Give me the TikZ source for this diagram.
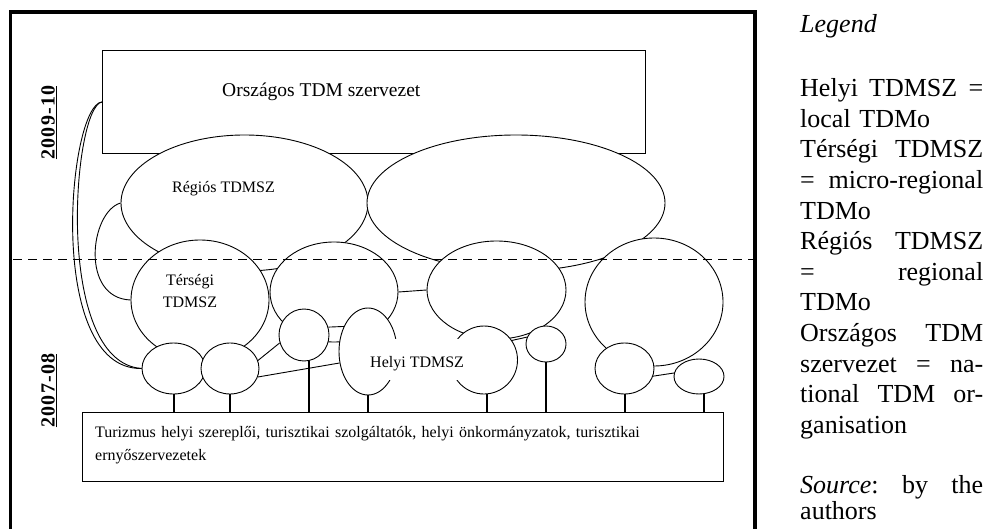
\documentclass[tikz,border=0pt]{standalone}
\usepackage{fontspec}
\setmainfont{Liberation Serif}
\usetikzlibrary{shapes.geometric}
\newcommand\jl[1]{\leavevmode\hbox to 183pt{#1}}
\begin{document}
\begin{tikzpicture}[x=1pt,y=-1pt]
\tikzset{
  orb/.style={ellipse, draw, fill=white, line width=0.9pt, inner sep=0pt},
  boxy/.style={draw, fill=white, inner sep=0pt, anchor=north west},
  stem/.style={line width=2pt},
  link/.style={line width=0.9pt},
  frameline/.style={line width=3.5pt, line join=miter},
  lbl/.style={inner sep=0pt, anchor=base west},
  small/.style={font=\fontsize{16}{22}\selectfont},
  yearlbl/.style={rotate=90, inner sep=0pt, font=\fontsize{20}{24}\selectfont\bfseries\addfontfeature{LetterSpace=6}},
}
\useasboundingbox (0,0) rectangle (984,529);

% outer frame (open at the bottom)
\coordinate (f1) at (10.5,529);
\coordinate (f2) at (10.5,12);
\coordinate (f3) at (755,12);
\coordinate (f4) at (755,529);
\draw[frameline] (f1) -- (f2) -- (f3) -- (f4);

% national organisation
\node[boxy, line width=0.9pt, minimum width=543pt, minimum height=103pt] (NAT) at (102,50) {};

% regional
\node[orb, minimum width=247pt, minimum height=136pt] (RG1) at (244.5,203) {};
\node[orb, minimum width=298pt, minimum height=136pt] (RG2) at (516,203) {};

% micro-regional
\node[orb, minimum width=138pt, minimum height=120pt] (T1) at (200,300) {};
\node[orb, minimum width=128pt, minimum height=100pt] (T2) at (334,292) {};
\node[orb, minimum width=139pt, minimum height=98pt] (T3) at (496.5,290) {};
\node[orb, minimum width=138pt, minimum height=128pt] (T4) at (654,302) {};

% local
\node[orb, minimum width=63pt, minimum height=51pt] (A) at (173.5,368.5) {};
\node[orb, minimum width=58pt, minimum height=51pt] (B) at (230,368.5) {};
\node[orb, minimum width=50pt, minimum height=52pt] (C) at (304,335) {};
\node[orb, minimum width=58pt, minimum height=87pt] (D) at (368,351.5) {};
\node[orb, minimum width=67pt, minimum height=68pt] (E) at (484,360) {};
\node[orb, minimum width=40pt, minimum height=36pt] (F) at (546,344) {};
\node[orb, minimum width=59pt, minimum height=51pt] (J) at (624.5,368.5) {};
\node[orb, minimum width=50pt, minimum height=35pt] (K) at (699,376.5) {};

% actors box
\node[boxy, line width=1.2pt, minimum width=641pt, minimum height=69pt] (actors) at (82,412) {};

% stems
\draw[stem] (A.south) -- (A.south |- actors.north);
\draw[stem] (B.south) -- (B.south |- actors.north);
\draw[stem] (C.-79) -- (C.-79 |- actors.north);
\draw[stem] (D.south) -- (D.south |- actors.north);
\draw[stem] (E.-85) -- (E.-85 |- actors.north);
\draw[stem] (F.south) -- (F.south |- actors.north);
\draw[stem] (J.south) -- (J.south |- actors.north);
\draw[stem] (K.-74) -- (K.-74 |- actors.north);

% connectors
\draw[link] (NAT.west) .. controls (68,105) and (45,370) .. (A.west);
\draw[link] (NAT.west) .. controls (73,106) and (53,362) .. (A.west);
\draw[link] (RG1.west) .. controls (90,212) and (80,298) .. (T1.west);
\draw[link] (T2.east) -- (T3.west);
\draw[link] (B.16) -- (C.198);
\draw[link] (B.-17) -- (D.202);
\draw[link] (C.18) -- (D.134);
\draw[link] (E.35) -- (F.160);
\draw[link] (J.-15) -- (K.172);

% texts
\node[lbl, font=\fontsize{19.5}{23}\selectfont] (tnat) at (222,97) {Országos TDM szervezet};
\node[lbl, small] (trg) at (172,193) {Régiós TDMSZ};
\node[inner sep=0pt, anchor=base, small] (tter) at (190,285)
  {\begin{tabular}[t]{@{}c@{}}Térségi\\TDMSZ\end{tabular}};
\node[fill=white, inner xsep=7pt, inner ysep=0pt, text height=28pt, text depth=13pt,
  anchor=base west, small] (thely) at (363,367) {Helyi TDMSZ};
\node[lbl, text width=620pt, align=left, font=\fontsize{16}{23}\selectfont] (tact) at (95,437)
  {Turizmus helyi szereplői, turisztikai szolgáltatók, helyi önkormányzatok, turisztikai\\ernyőszervezetek};

% dashed period divider
\coordinate (dL) at (13,259.5);
\coordinate (dR) at (753,259.5);
\draw[dash pattern=on 9pt off 6pt, line width=1.8pt] (dL) -- (dR);

% period labels
\node[yearlbl] (y1) at (49,122.5) {\underline{2009-10}};
\node[yearlbl] (y2) at (49,390.5) {\underline{2007-08}};

% legend
\node[lbl, font=\fontsize{26}{30.6}\selectfont\itshape] (leg) at (800,33) {Legend};
\node[lbl, text width=183pt, align=left, font=\fontsize{26}{30.6}\selectfont] (legtxt) at (800,96.7)
  {\jl{Helyi\hfill TDMSZ\hfill =}\\
   local TDMo\\
   \jl{Térségi\hfill TDMSZ}\\
   \jl{=\hfill micro-regional}\\
   TDMo\\
   \jl{Régiós\hfill TDMSZ}\\
   \jl{=\hfill regional}\\
   TDMo\\
   \jl{Országos\hfill TDM}\\
   \jl{szervezet\hfill =\hfill na-}\\
   \jl{tional\hfill TDM\hfill or-}\\
   ganisation};
\node[lbl, text width=183pt, align=left, font=\fontsize{26}{26}\selectfont] (src) at (800,493)
  {\jl{\textit{Source}:\hfill by\hfill the}\\authors};
\end{tikzpicture}
\end{document}
